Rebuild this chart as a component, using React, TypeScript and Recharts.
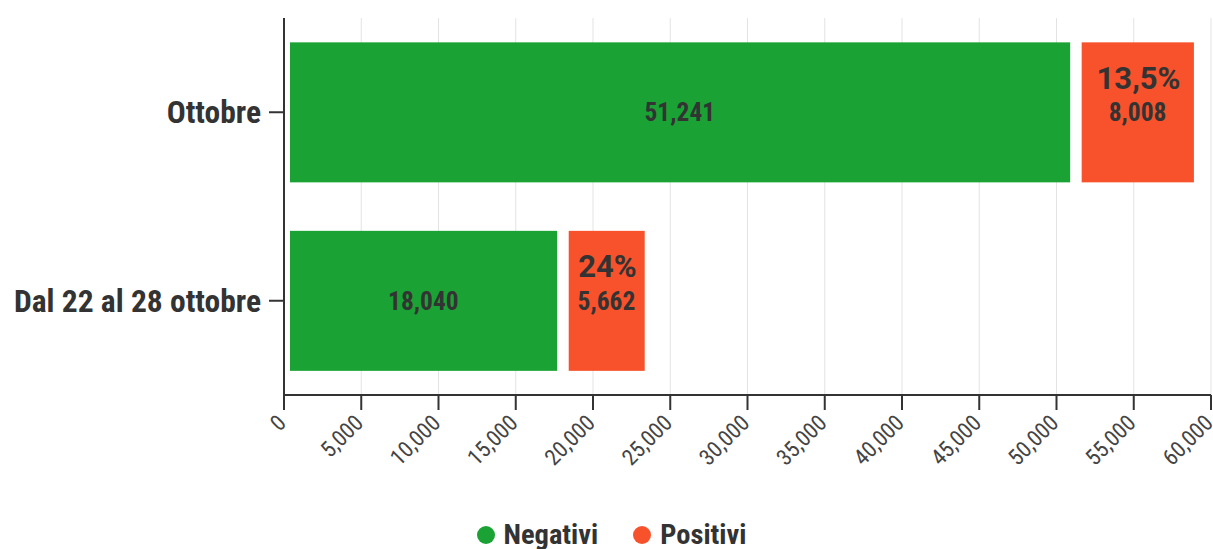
import React from "react";
import {
  Bar,
  BarChart,
  CartesianGrid,
  LabelList,
  Legend,
  Text,
  XAxis,
  YAxis,
} from "recharts";

const categories = ["Ottobre", "Dal 22 al 28 ottobre"];
const negativi = [51241, 18040];
const positivi = [8008, 5662];
const percentuali = ["13,5%", "24%"];
const xTicks = [0, 5000, 10000, 15000, 20000, 25000, 30000, 35000, 40000, 45000, 50000, 55000, 60000];

const GREEN = "#1aa334";
const ORANGE = "#f7522b";
const TEXT = "#333333";
const FONT = "'Roboto Condensed', 'Liberation Sans Narrow', 'DejaVu Sans Condensed', sans-serif";
const FONT_WIDE = "Roboto, 'Noto Sans', sans-serif";

const data = categories.map((label, i) => ({
  label,
  negativi: negativi[i],
  positivi: positivi[i],
  pct: percentuali[i],
}));

const fmt = (v: number) => v.toLocaleString("en-US");

// white gap around each segment, drawn by shrinking the rect
const InsetBar = (p: any) => {
  const { x, y, width, height, fill } = p;
  if (!width || width <= 0) return null;
  return (
    <rect
      x={x + 6}
      y={y + 5.5}
      width={Math.max(width - 11.5, 0)}
      height={Math.max(height - 11, 0)}
      fill={fill}
    />
  );
};

const XTick = (p: any) => {
  const { x, y, payload } = p;
  return (
    <Text
      x={x - 8}
      y={y}
      angle={-45}
      textAnchor="end"
      verticalAnchor="start"
      fill="#444"
      fontSize={22.5}
      fontWeight={400}
    >
      {fmt(Number(payload.value))}
    </Text>
  );
};

const CenterValue = (p: any) => {
  const { x, y, width, height, value } = p;
  return (
    <text
      x={x + width / 2}
      y={y + height / 2}
      textAnchor="middle"
      dominantBaseline="central"
      fill={TEXT}
      fontSize={25.5}
      fontWeight={700}
    >
      {fmt(Number(value))}
    </text>
  );
};

const PosValue = (p: any) => {
  const { x, y, width, height, value, index } = p;
  const cx = x + width / 2;
  const cy = y + height / 2;
  return (
    <g>
      <text
        x={cx + 1}
        y={cy - 34}
        textAnchor="middle"
        dominantBaseline="central"
        fill={TEXT}
        fontSize={31}
        fontWeight={700}
        fontFamily={FONT_WIDE}
      >
        {percentuali[index]}
      </text>
      <text
        x={cx}
        y={cy}
        textAnchor="middle"
        dominantBaseline="central"
        fill={TEXT}
        fontSize={25.5}
        fontWeight={700}
      >
        {fmt(Number(value))}
      </text>
    </g>
  );
};

const LegendContent = () => (
  <div
    style={{
      display: "flex",
      justifyContent: "center",
      alignItems: "center",
      gap: 35,
      paddingTop: 14,
      paddingLeft: 12,
      fontSize: 28.5,
      fontWeight: 700,
      color: TEXT,
      fontFamily: FONT,
      lineHeight: "28px",
    }}
  >
    {[
      { name: "Negativi", color: GREEN },
      { name: "Positivi", color: ORANGE },
    ].map((it) => (
      <span key={it.name} style={{ display: "flex", alignItems: "center", gap: 9 }}>
        <span
          style={{
            width: 18,
            height: 18,
            borderRadius: "50%",
            background: it.color,
            display: "inline-block",
          }}
        />
        {it.name}
      </span>
    ))}
  </div>
);

export default function App() {
  return (
    <div style={{ position: "absolute", left: 0, top: 0, fontFamily: FONT }}>
      <BarChart
        width={1213}
        height={549}
        data={data}
        layout="vertical"
        barCategoryGap="10%"
        margin={{ top: 18, right: 2, bottom: 0, left: 0 }}
      >
        <CartesianGrid horizontal={false} stroke="#e3e3e3" />
        <XAxis
          type="number"
          domain={[0, 60000]}
          ticks={xTicks}
          interval={0}
          height={112}
          tickSize={15}
          tickMargin={3}
          stroke={TEXT}
          strokeWidth={2}
          tick={XTick}
        />
        <YAxis
          type="category"
          dataKey="label"
          width={284}
          tickSize={15}
          tickMargin={8}
          stroke={TEXT}
          strokeWidth={2}
          tick={{ fill: TEXT, fontSize: 31.5, fontWeight: 700 }}
        />
        <Legend verticalAlign="bottom" height={42} content={LegendContent} />
        <Bar
          dataKey="negativi"
          name="Negativi"
          stackId="a"
          fill={GREEN}
          shape={InsetBar}
          isAnimationActive={false}
        >
          <LabelList dataKey="negativi" content={CenterValue} />
        </Bar>
        <Bar
          dataKey="positivi"
          name="Positivi"
          stackId="a"
          fill={ORANGE}
          shape={InsetBar}
          isAnimationActive={false}
        >
          <LabelList dataKey="positivi" content={PosValue} />
        </Bar>
      </BarChart>
    </div>
  );
}
